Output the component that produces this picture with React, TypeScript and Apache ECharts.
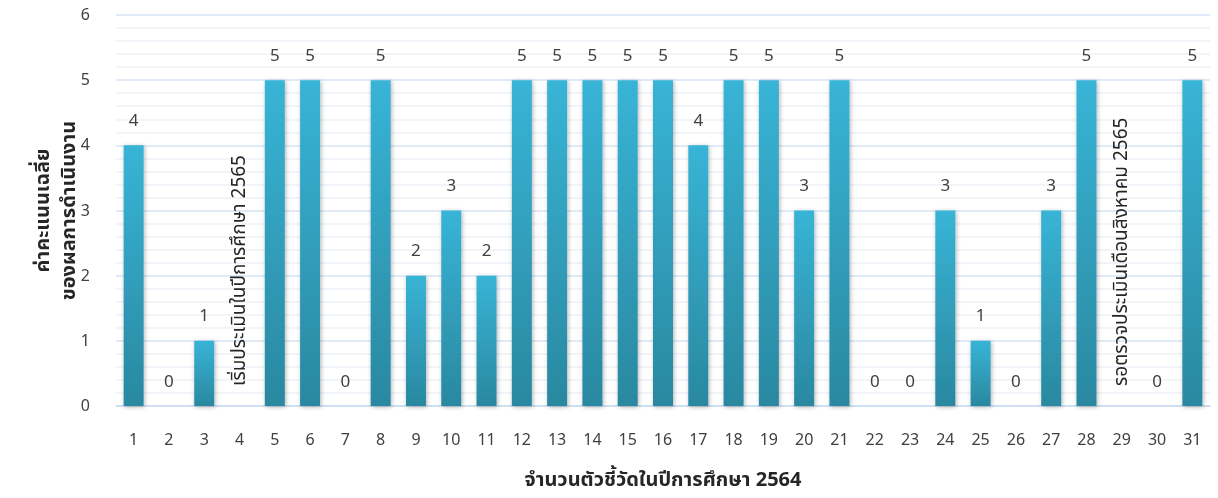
import React, { useEffect, useRef } from "react";
import * as echarts from "echarts";

const categories = Array.from({ length: 31 }, (_, i) => String(i + 1));
const values: (number | null)[] = [4, 0, 1, null, 5, 5, 0, 5, 2, 3, 2, 5, 5, 5, 5, 5, 4, 5, 5, 3, 5, 0, 0, 3, 1, 0, 3, 5, null, 0, 5];
const notes: Record<string, string> = {
  "4": "เริ่มประเมินในปีการศึกษา 2565",
  "29": "รอตรวจประเมินเดือนสิงหาคม 2565",
};
const yTitle = "ค่าคะแนนเฉลี่ย\nของผลการดำเนินงาน";
const xTitle = "จำนวนตัวชี้วัดในปีการศึกษา 2564";

const FONT = "'Noto Sans Thai', 'Noto Sans', 'DejaVu Sans', sans-serif";

export default function App() {
  const ref = useRef<HTMLDivElement>(null);
  useEffect(() => {
    const chart = echarts.init(ref.current!, null, { renderer: "svg" });
    const data = categories.map((c, i) => {
      const v = values[i];
      if (notes[c]) {
        return {
          value: 0,
          itemStyle: { shadowBlur: 0, shadowColor: "transparent", color: "transparent" },
          label: {
            show: true,
            formatter: notes[c],
            position: "insideBottom",
            rotate: 90,
            align: "left",
            verticalAlign: "middle",
            distance: 20,
            fontSize: 19,
            color: "#262626",
          },
        };
      }
      return { value: v };
    });
    chart.setOption({
      animation: false,
      textStyle: { fontFamily: FONT },
      grid: { left: 116, right: 8, top: 15, bottom: 92 },
      xAxis: {
        type: "category",
        data: categories,
        axisTick: { show: false },
        axisLine: { lineStyle: { color: "#c9dcef", width: 1.5 } },
        axisLabel: { fontSize: 16, color: "#404040", margin: 26, interval: 0 },
        name: xTitle,
        nameLocation: "middle",
        nameGap: 64,
        nameTextStyle: { fontSize: 20, fontWeight: "bold", color: "#262626" },
      },
      yAxis: {
        type: "value",
        min: 0,
        max: 6,
        interval: 1,
        axisLine: { show: false },
        axisTick: { show: false },
        axisLabel: { fontSize: 16, color: "#404040", margin: 26 },
        splitLine: { lineStyle: { color: "#d6e4f4", width: 1.5 } },
        minorTick: { show: false, splitNumber: 5 },
        minorSplitLine: { show: true, lineStyle: { color: "#edf2f9", width: 1.5 } },
        name: yTitle,
        nameLocation: "middle",
        nameRotate: 90,
        nameGap: 34,
        nameMoveOverlap: false,
        nameTextStyle: { fontSize: 20, fontWeight: "bold", color: "#262626", lineHeight: 26 },
      },
      series: [
        {
          type: "bar",
          data,
          barWidth: 20,
          itemStyle: {
            color: new echarts.graphic.LinearGradient(0, 0, 0, 1, [
              { offset: 0, color: "#38b4d6" },
              { offset: 1, color: "#2a88a0" },
            ]),
            shadowBlur: 4,
            shadowColor: "rgba(0,0,0,0.3)",
            shadowOffsetX: 1,
            shadowOffsetY: 1,
          },
          label: {
            show: true,
            position: "top",
            distance: 16,
            fontSize: 17,
            color: "#404040",
          },
        },
      ],
    });
    return () => chart.dispose();
  }, []);
  return <div ref={ref} style={{ position: "fixed", left: 0, top: 0, width: 1218, height: 498 }} />;
}
